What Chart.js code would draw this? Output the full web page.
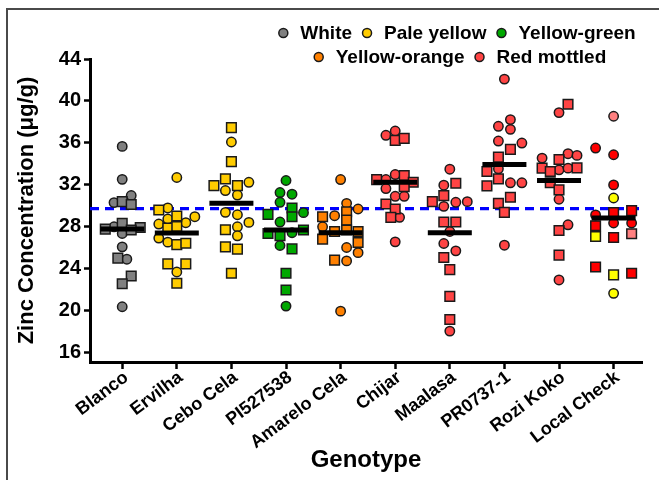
<!DOCTYPE html>
<html><head><meta charset="utf-8">
<script src="https://cdn.jsdelivr.net/npm/chart.js@4"></script>
<style>html,body{margin:0;padding:0;background:#fff}#wrap{width:659px;height:480px;position:relative}</style>
</head><body><div id="wrap"><canvas id="c" width="659" height="480"></canvas></div>
<script>
// ---------- data ----------
const genotypes = ['Blanco','Ervilha','Cebo Cela','PI527538','Amarelo Cela','Chijar','Maalasa','PR0737-1','Rozi Koko','Local Check'];
const yTicks = [16,20,24,28,32,36,40,44];
const legendLabels = ['White','Pale yellow','Yellow-green','Yellow-orange','Red mottled'];
const meanValues = [27.75,27.37,30.21,27.66,27.4,32.22,27.4,33.92,32.39,28.81];
const grandMean = 29.7;
// seed-coat colour class of each genotype (index into legendLabels), -1 = mixed
const genotypeClass = [0,1,1,2,3,4,4,4,4,-1];

// values, shapes (c = circle, s = square) and horizontal jitter (fraction of category)
const blancoValues = [35.65,32.5,30.96,30.28,27.97,27.33,26.05,24.87,20.33, 30.37,30.1,28.3,27.75,27.9,27.66,24.97,23.27,22.53];
const blancoShapes = 'cccccccccsssssssss';
const blancoJitter = [0,0,0.165,-0.15,-0.15,0,0,0.085,0, 0,0.165,0,-0.31,0.33,0.165,-0.08,0.165,0];

const ervilhaValues = [32.68,29.77,28.71,28.93,28.36,28.23,26.89,26.5,23.65, 29.57,29.0,27.85,28.0,26.27,26.4,24.42,24.42,22.57];
const ervilhaShapes = 'cccccccccsssssssss';
const ervilhaJitter = [0,-0.165,-0.165,0.33,0.165,-0.33,-0.33,-0.165,0, -0.33,0,-0.165,0,0,0.165,-0.165,0.165,0];

const ceboValues = [36.07,32.22,31.43,31.0,29.35,29.12,28.39,27.97,27.11, 37.44,34.2,31.9,32.55,31.9,27.68,26.05,25.83,23.53];
const ceboShapes = 'cccccccccsssssssss';
const ceboJitter = [0,0.32,-0.11,0.11,-0.11,0.11,0.32,0.11,0.11, 0,0,-0.32,-0.11,0.11,-0.11,-0.11,0.11,0];

const piValues = [32.39,31.24,31.08,30.31,29.32,28.42,27.4,26.18,20.39, 29.77,29.16,28.93,27.66,27.33,27.11,25.86,23.53,21.93];
const piShapes = 'cccccccccsssssssss';
const piJitter = [0,-0.11,0.11,-0.11,0.32,-0.11,0.11,-0.11,0, 0.11,-0.33,0.11,0.32,-0.33,-0.11,0.11,0,0];

const amareloValues = [32.48,30.21,29.67,29.03,27.97,25.99,25.5,24.71,19.91, 29.41,28.93,28.61,27.52,27.66,27.52,26.79,26.47,24.78];
const amareloShapes = 'cccccccccsssssssss';
const amareloJitter = [0,0.11,0.32,-0.11,-0.33,0.11,0.32,0.11,0, 0.11,-0.33,0.11,-0.11,0.11,0.32,-0.33,0.32,-0.11];

const chijarValues = [36.71,37.12,32.48,32.96,31.62,30.88,30.88,28.87,26.53, 36.23,36.42,32.48,32.87,32.22,31.81,30.15,29.67,28.87];
const chijarShapes = 'cccccccccsssssssss';
const chijarJitter = [-0.17,0,-0.17,0,-0.17,0,0.165,0.08,0, 0,0.165,-0.34,0.165,0.33,0.165,-0.17,0,-0.08];

const maalasaValues = [33.47,31.94,29.92,30.31,30.37,27.52,26.37,25.67,18.0, 32.13,30.95,30.37,28.42,28.42,25.03,23.88,21.32,19.11];
const maalasaShapes = 'cccccccccsssssssss';
const maalasaJitter = [0,-0.11,-0.11,0.11,0.32,0,-0.11,0.11,0, 0.11,-0.11,-0.32,-0.11,0.11,-0.11,0,0,0];

const prValues = [42.08,38.21,37.57,37.28,36.16,35.97,33.51,32.17,32.17,26.21, 35.36,34.62,33.25,31.88,32.55,30.79,30.21,29.35];
const prShapes = 'ccccccccccssssssss';
const prJitter = [0,0.11,-0.11,0.11,-0.11,0.32,-0.11,0.11,0.32,0, 0.11,-0.11,-0.32,-0.32,-0.11,0.11,-0.11,0];

const roziValues = [38.88,34.53,34.95,34.79,33.41,33.57,30.6,28.16,22.89, 39.68,34.4,33.57,33.25,33.6,32.17,31.5,27.62,25.26];
const roziShapes = 'cccccccccsssssssss';
const roziJitter = [0,-0.31,0.165,0.33,0,0.165,0,0.165,0, 0.165,0,-0.31,-0.16,0.33,-0.16,0,0,0];

const localValues = [38.53,35.49,34.85,31.97,30.72,29.51,29.32,29.1,28.33,28.33,28.07,27.04,26.95,27.3,24.13,23.37,23.53,21.61];
const localShapes = 'cccccsscccsssssssc';
const localJitter = [0,-0.33,0,0,0,0.33,0,-0.33,0,0.33,-0.33,-0.33,0,0.33,-0.33,0,0.33,0];
// r = red, p = pale red, y = yellow
const localColours = 'prrryrrrrrryrpryry';

const groupValues = [blancoValues,ervilhaValues,ceboValues,piValues,amareloValues,chijarValues,maalasaValues,prValues,roziValues,localValues];
const groupShapes = [blancoShapes,ervilhaShapes,ceboShapes,piShapes,amareloShapes,chijarShapes,maalasaShapes,prShapes,roziShapes,localShapes];
const groupJitter = [blancoJitter,ervilhaJitter,ceboJitter,piJitter,amareloJitter,chijarJitter,maalasaJitter,prJitter,roziJitter,localJitter];

// ---------- styles ----------
const classColours = ['#808080','#FFCC00','#00A800','#FF8000','#FF4444'];
const localPalette = {r:'#FF0000', p:'#FF8080', y:'#FFFF00'};
const X_MIN = -0.59, X_MAX = 9.52, Y_MIN = 15.05, Y_MAX = 44;
const FONT = '"Liberation Sans", Arial, Helvetica, sans-serif';
Chart.defaults.font.family = FONT;
Chart.defaults.color = '#000';

const datasets = [];
datasets.push({
  type: 'scatter',
  data: meanValues.map((v, i) => ({x: i, y: v})),
  pointStyle: 'line', pointRadius: 22, pointHoverRadius: 22,
  borderColor: '#000', borderWidth: 5, order: 0
});
groupValues.forEach((vals, gi) => {
  const shapes = groupShapes[gi].split('');
  const colours = vals.map((v, k) => genotypeClass[gi] >= 0 ? classColours[genotypeClass[gi]] : localPalette[localColours[k]]);
  datasets.push({
    type: 'scatter',
    data: vals.map((v, k) => ({x: gi + groupJitter[gi][k], y: v})),
    pointStyle: shapes.map(s => s === 's' ? 'rect' : 'circle'),
    pointRadius: shapes.map(s => s === 's' ? 6.8 : 4.7),
    pointHoverRadius: shapes.map(s => s === 's' ? 6.8 : 4.7),
    backgroundColor: colours,
    borderColor: '#1a1a1a', borderWidth: 1.5, order: 1
  });
});
datasets.push({
  type: 'line',
  data: [{x: X_MIN, y: grandMean}, {x: X_MAX, y: grandMean}],
  borderColor: '#0000FF', borderWidth: 3.2, borderDash: [9, 6],
  pointRadius: 0, fill: false, order: 2
});

const framePlugin = {
  id: 'frame',
  beforeDraw(chart) {
    const ctx = chart.ctx;
    ctx.save();
    ctx.fillStyle = '#fff';
    ctx.fillRect(0, 0, chart.width, chart.height);
    ctx.strokeStyle = '#4a4a4a';
    ctx.lineWidth = 2;
    ctx.beginPath();
    ctx.moveTo(7, chart.height);
    ctx.lineTo(7, 9);
    ctx.lineTo(chart.width, 9);
    ctx.stroke();
    ctx.restore();
  }
};

const legendPlugin = {
  id: 'seedLegend',
  afterDraw(chart) {
    const ctx = chart.ctx;
    ctx.save();
    ctx.font = 'bold 19px ' + FONT;
    ctx.textBaseline = 'middle';
    ctx.textAlign = 'left';
    const rows = [[0, 1, 2], [3, 4]];
    const rowY = [33, 57];
    const centreX = [457, 460];
    const markerGap = 17, itemGap = 15;
    rows.forEach((row, r) => {
      const widths = row.map(i => ctx.measureText(legendLabels[i]).width);
      const total = widths.reduce((s, w) => s + markerGap + w, 0) + itemGap * (row.length - 1) + 5;
      let x = centreX[r] - total / 2 + 5;
      row.forEach((i, k) => {
        ctx.beginPath();
        ctx.arc(x, rowY[r], 4.5, 0, 2 * Math.PI);
        ctx.fillStyle = classColours[i];
        ctx.fill();
        ctx.lineWidth = 1.5;
        ctx.strokeStyle = '#1a1a1a';
        ctx.stroke();
        ctx.fillStyle = '#000';
        ctx.fillText(legendLabels[i], x + markerGap, rowY[r] + 1);
        x += markerGap + widths[k] + itemGap;
      });
    });
    ctx.restore();
  }
};

new Chart(document.getElementById('c'), {
  type: 'scatter',
  data: {datasets},
  options: {
    responsive: false, animation: false, devicePixelRatio: 1, events: [],
    layout: {autoPadding: false, padding: {left: 0, top: 59, right: 17, bottom: 0}},
    plugins: {legend: {display: false}, tooltip: {enabled: false}},
    scales: {
      x: {
        type: 'linear', min: X_MIN, max: X_MAX,
        afterBuildTicks: s => { s.ticks = genotypes.map((g, i) => ({value: i})); },
        afterFit: s => { s.height = 118; s.paddingLeft = 0; s.paddingRight = 0; },
        ticks: {
          autoSkip: false, minRotation: 37, maxRotation: 37, padding: -2, labelOffset: 4,
          font: {size: 18, weight: 'bold'}, color: '#000',
          callback: v => genotypes[v]
        },
        grid: {drawOnChartArea: false, drawTicks: true, tickLength: 7, tickWidth: 2.5, color: '#000'},
        border: {display: true, width: 3, color: '#000'},
        title: {display: true, text: 'Genotype', font: {size: 24, weight: 'bold'}, color: '#000', padding: {top: 0, bottom: 5}}
      },
      y: {
        type: 'linear', min: Y_MIN, max: Y_MAX,
        afterBuildTicks: s => { s.ticks = yTicks.map(v => ({value: v})); },
        afterFit: s => { s.width = 90; },
        ticks: {font: {size: 20, weight: 'bold'}, color: '#000', padding: 3},
        grid: {drawOnChartArea: false, drawTicks: true, tickLength: 6, tickWidth: 2.5, color: '#000'},
        border: {display: true, width: 3, color: '#000'},
        title: {display: true, text: 'Zinc Concentration (μg/g)', font: {size: 22, weight: 'bold'}, color: '#000', padding: {top: 14, bottom: 0}}
      }
    }
  },
  plugins: [framePlugin, legendPlugin]
});
</script>
</body></html>
